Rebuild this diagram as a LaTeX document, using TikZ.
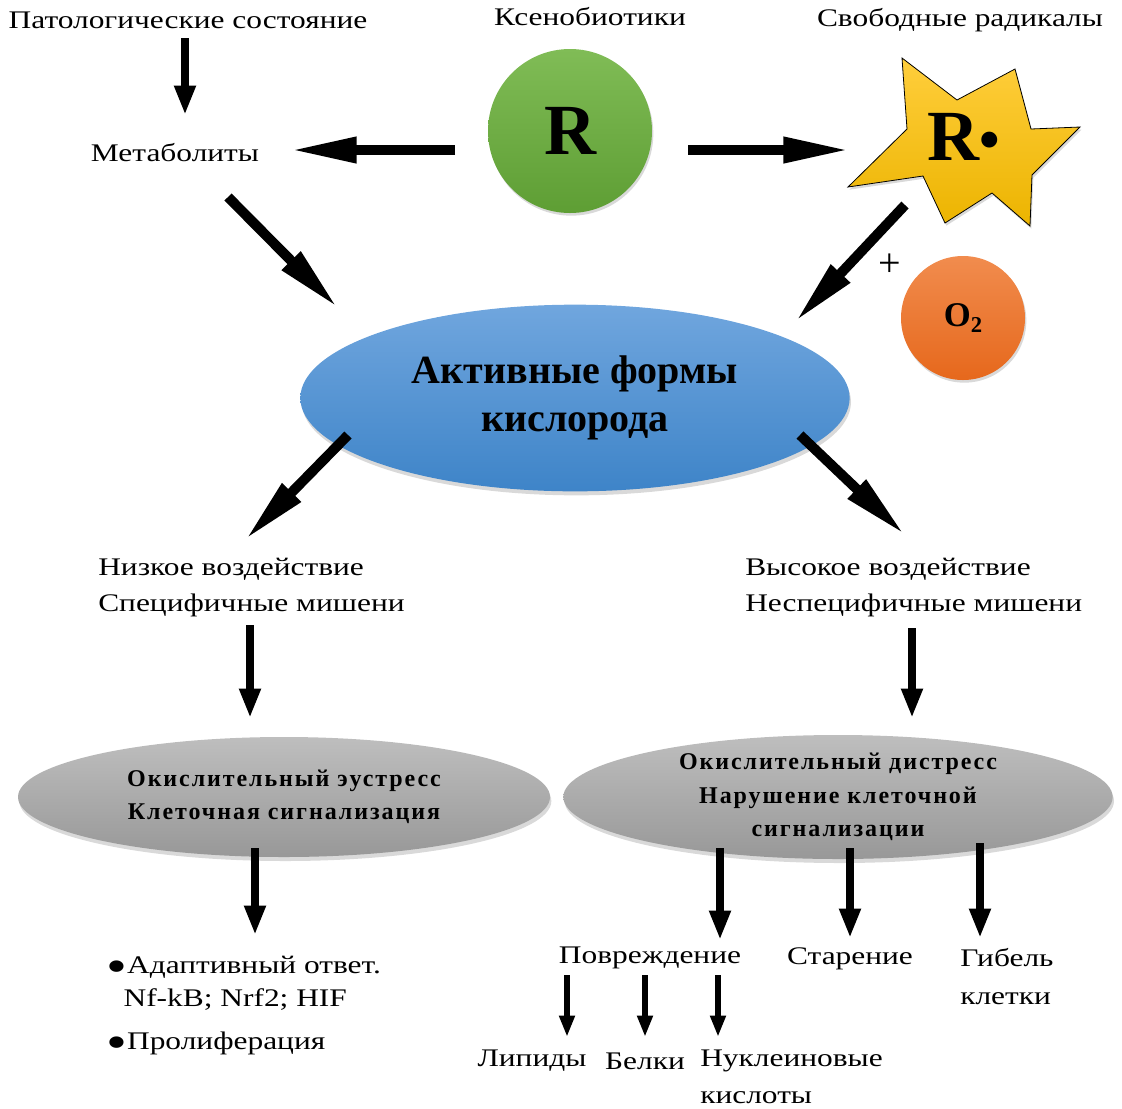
\documentclass[tikz,border=0pt]{standalone}
\usepackage{fontspec}
\setmainfont{Liberation Serif}
\newfontfamily\widefont{Liberation Serif}[FakeStretch=1.24]
\usetikzlibrary{arrows.meta,shapes.geometric,shadows}

\definecolor{greenT}{RGB}{128,188,86}
\definecolor{greenB}{RGB}{94,158,52}
\definecolor{starT}{RGB}{255,206,60}
\definecolor{starB}{RGB}{236,180,0}
\definecolor{orangeT}{RGB}{241,140,78}
\definecolor{orangeB}{RGB}{230,104,28}
\definecolor{blueT}{RGB}{112,166,222}
\definecolor{blueB}{RGB}{62,132,200}
\definecolor{grayT}{RGB}{190,190,190}
\definecolor{grayB}{RGB}{152,152,152}

\newcommand{\bigdot}{{\fontsize{36}{0}\selectfont\raisebox{-6.5pt}{\textbullet}}}
\newcommand{\raddot}{{\fontsize{44}{0}\selectfont\raisebox{1pt}{\textbullet}}}

\begin{document}
\begin{tikzpicture}[x=0.75pt,y=-0.75pt,
  txt/.style={inner sep=0pt,font=\widefont\fontsize{19}{27}\selectfont},
  hd/.style={inner sep=0pt,align=center,font=\bfseries\fontsize{18}{25}\selectfont\addfontfeatures{LetterSpace=8}},
  ball/.style={circle,inner sep=0pt,drop shadow={opacity=0.3,shadow xshift=1pt,shadow yshift=-2pt}},
  oval/.style={ellipse,inner sep=0pt,drop shadow={opacity=0.3,shadow xshift=1pt,shadow yshift=-3pt}},
  arrL/.style={line width=7.5pt,-{Triangle[length=50pt,width=18pt]}},
  arrM/.style={line width=6pt,-{Triangle[length=22pt,width=15pt]}},
  arrS/.style={line width=5pt,-{Triangle[length=16pt,width=11pt]}}]

\useasboundingbox (0,0) rectangle (1122,1108);

\node[txt] (pat) at (188,20) {Патологические состояние};
\node[txt] (xeno) at (590,17) {Ксенобиотики};
\node[txt] (svob) at (960,20) {Свободные радикалы};
\node[txt] (met) at (175,153) {Метаболиты};

\node[ball,minimum size=123pt,top color=greenT,bottom color=greenB,
  font=\bfseries\fontsize{54}{54}\selectfont] (R) at (570,131) {R};

\shadedraw[top color=starT,bottom color=starB,draw=black,line width=0.6pt,
  drop shadow={opacity=0.3,shadow xshift=1pt,shadow yshift=-2pt}]
  (902,58) -- (957,100) -- (1015,69) -- (1031,129) -- (1080,127) -- (1032,175)
  -- (1030,226) -- (992,193) -- (945,223) -- (923,176) -- (848,187) -- (907,129) -- cycle;
\node[inner sep=0pt,font=\bfseries\fontsize{54}{54}\selectfont] (star) at (964,137) {R\raddot};

\node[font=\fontsize{30}{30}\selectfont,inner sep=0pt] (plus) at (890,265) {+};
\node[ball,minimum size=93pt,top color=orangeT,bottom color=orangeB,
  font=\bfseries\fontsize{26}{26}\selectfont] (o2) at (963,318) {O\raisebox{-4pt}{\fontsize{17}{17}\selectfont 2}};

\node[oval,minimum width=412pt,minimum height=140pt,top color=blueT,bottom color=blueB,
  align=center,font=\bfseries\fontsize{30}{36}\selectfont] (afk) at (575,398) {Активные формы\\кислорода};

\node[txt,anchor=west,align=left] (low) at (98,588) {Низкое воздействие\\Специфичные мишени};
\node[txt,anchor=west,align=left] (high) at (745,588) {Высокое воздействие\\Неспецифичные мишени};

\node[oval,minimum width=399pt,minimum height=90pt,top color=grayT,bottom color=grayB] (eu) at (284,797) {};
\node[hd] at (eu) {Окислительный эустресс\\Клеточная сигнализация};
\node[oval,minimum width=412pt,minimum height=93pt,top color=grayT,bottom color=grayB] (dis) at (838,797) {};
\node[hd] at (dis) {Окислительный дистресс\\Нарушение клеточной\\сигнализации};

\node[txt,anchor=west,align=left,font=\widefont\fontsize{19}{25}\selectfont] (adapt) at (106,1007)
  {\bigdot Адаптивный ответ.\\\hspace*{13pt}Nf-kB; Nrf2; HIF\\[7pt]\bigdot Пролиферация};
\node[txt] (povr) at (650,958) {Повреждение};
\node[txt] (aging) at (850,959) {Старение};
\node[txt,anchor=west,align=left,font=\widefont\fontsize{19}{28.5}\selectfont] (gib) at (960,977) {Гибель\\клетки};
\node[txt] (lip) at (532,1061) {Липиды};
\node[txt] (bel) at (645,1061) {Белки};
\node[txt,anchor=west,align=left,font=\widefont\fontsize{19}{28}\selectfont] (nuk) at (700,1077) {Нуклеиновые\\кислоты};

\draw[arrM] ([shift={(-3,18)}]pat.center) -- ([shift={(10,-38)}]met.center);
\draw[arrL] ([shift={(-115,19)}]R.center) -- ([shift={(115,-3)}]met.center);
\draw[arrL] ([shift={(118,19)}]R.center) -- ([shift={(-114,13)}]star.center);
\draw[arrL] ([shift={(53,44)}]met.center) -- ([shift={(-237,-90)}]afk.center);
\draw[arrL] ([shift={(-59,68)}]star.center) -- ([shift={(220,-76)}]afk.center);
\draw[arrL] ([shift={(-227,37)}]afk.center) -- ([shift={(147,-48)}]low.west);
\draw[arrL] ([shift={(225,37)}]afk.center) -- ([shift={(160,-53)}]high.west);
\draw[arrM] ([shift={(152,37)}]low.west) -- ([shift={(-34,-79)}]eu.center);
\draw[arrM] ([shift={(167,40)}]high.west) -- ([shift={(74,-79)}]dis.center);
\draw[arrM] ([shift={(-29,51)}]eu.center) -- ([shift={(149,-72)}]adapt.west);
\draw[arrM] ([shift={(-118,51)}]dis.center) -- ([shift={(70,-18)}]povr.center);
\draw[arrM] ([shift={(12,51)}]dis.center) -- ([shift={(0,-21)}]aging.center);
\draw[arrM] ([shift={(142,46)}]dis.center) -- ([shift={(20,-39)}]gib.west);
\draw[arrS] ([shift={(-83,17)}]povr.center) -- ([shift={(35,-24)}]lip.center);
\draw[arrS] ([shift={(-5,17)}]povr.center) -- ([shift={(0,-24)}]bel.center);
\draw[arrS] ([shift={(68,17)}]povr.center) -- ([shift={(18,-40)}]nuk.west);
\end{tikzpicture}
\end{document}
